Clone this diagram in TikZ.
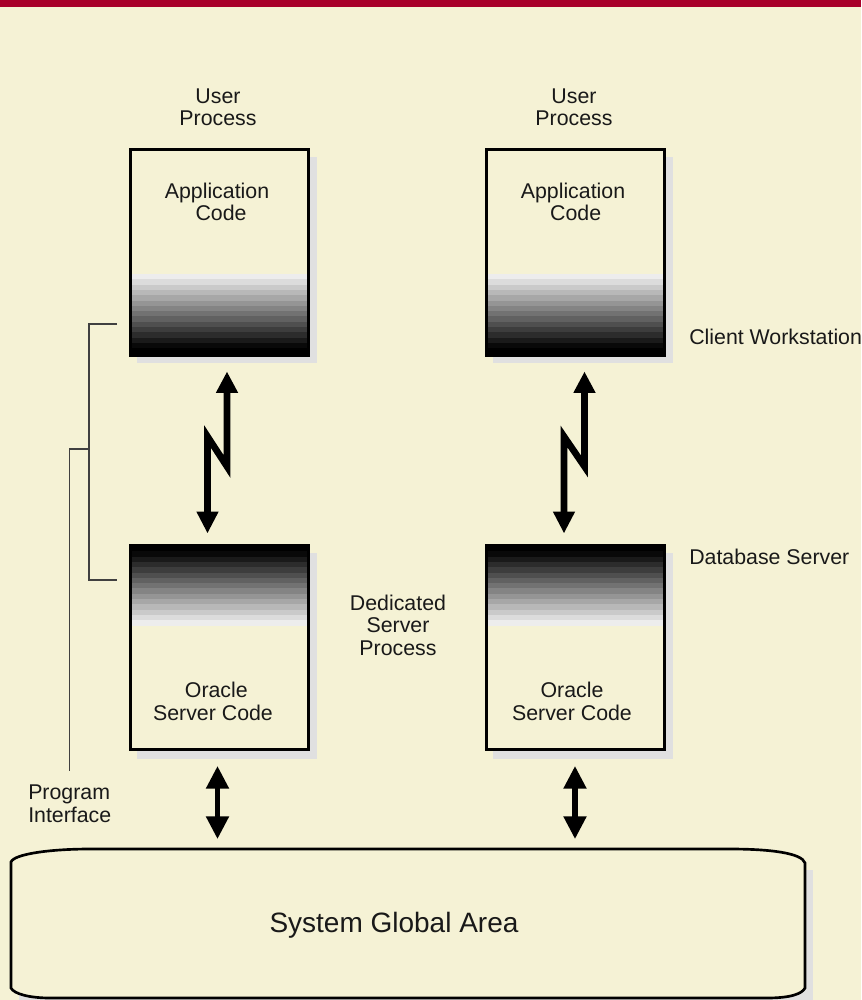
\documentclass[tikz,border=0pt]{standalone}
\usepackage{fontspec}
\setmainfont{Liberation Sans}
\usetikzlibrary{arrows.meta,calc}
\definecolor{paper}{HTML}{F5F2D5}
\definecolor{topbar}{HTML}{A8002A}
\definecolor{shadowgrey}{HTML}{E0E0E0}
\newcommand{\bandsdown}[1]{% dark at the bottom
  \foreach \i in {0,...,14}{
    \pgfmathsetmacro{\g}{max(0,100*(0.93-0.93*\i/13.5))}
    \fill[fill=white!\g!black]
      ($(#1.south west)+(0,{-81.5+\i*5.3})$) rectangle ($(#1.south east)+(0,{-81.5+(\i+1)*5.3+.3})$);}}
\newcommand{\bandsup}[1]{% dark at the top
  \foreach \i in {0,...,14}{
    \pgfmathsetmacro{\g}{max(0,100*(0.93-0.93*\i/13.5))}
    \fill[fill=white!\g!black]
      ($(#1.north west)+(0,{80-\i*5.3})$) rectangle ($(#1.north east)+(0,{80-(\i+1)*5.3-.3})$);}}
\tikzset{
  x=0.75pt,y=-0.75pt,
  box/.style={draw=black,line width=2.3pt,inner sep=0pt,outer sep=0pt,minimum width=133.5pt},
  tall/.style={minimum height=154.5pt},
  short/.style={minimum height=153pt},
  lbl/.style={font=\fontsize{16}{16.8}\selectfont,align=center,inner sep=0pt,text=black!90},
  lbll/.style={lbl,align=left,anchor=west},
  thin line/.style={draw=black!75,line width=1pt},
  zig/.style={draw=black,line width=5pt,miter limit=30,line join=miter,
    {Triangle[length=16.5pt,width=15.5pt]}-{Triangle[length=16pt,width=15.5pt]}},
  dbl/.style={draw=black,line width=3.8pt,
    {Triangle[length=17pt,width=16.5pt]}-{Triangle[length=17pt,width=16.5pt]}},
}
\begin{document}
\begin{tikzpicture}
\useasboundingbox (0,0) rectangle (861,1000);
\fill[paper] (0,0) rectangle (861,1000);
\fill[topbar] (0,0) rectangle (861,7);
% shadows
\foreach \x in {0,356}{
  \fill[shadowgrey] (137+\x,157) rectangle (317+\x,363);
  \fill[shadowgrey] (137+\x,553) rectangle (317+\x,759);
}
% boxes
\node[box,tall,fill=paper] (app1) at (219.5,252.5) {};
\node[box,tall,fill=paper] (app2) at (575.5,252.5) {};
\node[box,short,fill=paper] (srv1) at (219.5,647.5) {};
\node[box,short,fill=paper] (srv2) at (575.5,647.5) {};
\bandsdown{app1}\bandsdown{app2}\bandsup{srv1}\bandsup{srv2}
\draw[line width=2.3pt] (app1.south west) rectangle (app1.north east);
\draw[line width=2.3pt] (app2.south west) rectangle (app2.north east);
\draw[line width=2.3pt] (srv1.south west) rectangle (srv1.north east);
\draw[line width=2.3pt] (srv2.south west) rectangle (srv2.north east);
% labels
\node[lbl] (up1) at (218,107) {User\\Process};
\node[lbl] (up2) at (574,107) {User\\Process};
\node[lbl] (ac1) at (217,202) {Application\\\hspace*{6pt}Code};
\node[lbl] (ac2) at (573,202) {Application\\\hspace*{4pt}Code};
\node[lbl] (os1) at (213,701) {\hspace*{5pt}Oracle\\[0.6pt]Server Code};
\node[lbl] (os2) at (572,701) {Oracle\\[0.6pt]Server Code};
\node[lbl] (ded) at (398,625) {Dedicated\\Server\\Process};
\node[lbll] (cw) at (689,337) {Client Workstation};
\node[lbll] (db) at (689,557) {Database Server};
\node[lbll] (pi) at (28,804) {Program\\[0.8pt]Interface};
% system global area
\fill[shadowgrey] (19,870) rectangle (813,1000);
\node[inner sep=0pt,outer sep=0pt,minimum width=596pt,minimum height=112pt] (sga) at (408,923.5) {};
\draw[black,line width=2pt,fill=paper]
  (11,862) .. controls (14,854) and (50,849) .. (90,849) -- (730,849)
  .. controls (770,849) and (802,853) .. (805,863) -- (805,988)
  .. controls (802,994) and (790,998) .. (767,998) -- (50,998)
  .. controls (30,998) and (14,994) .. (11,988) -- cycle;
\node[lbl,font=\fontsize{21}{22}\selectfont] (sgat) at (394,925) {System Global Area};
% connectors
\draw[zig,shorten <=9pt,shorten >=12pt]
  ($(srv1.north)+(-12,0)$) -- ++(0,-109) -- ++(19.5,30) -- ($(app1.south)+(7.5,0)$);
\draw[zig,shorten <=9pt,shorten >=12pt]
  ($(srv2.north)+(-11.5,0)$) -- ++(0,-109) -- ++(20.5,30) -- ($(app2.south)+(9,0)$);
\draw[dbl] ($(srv1.south)+(-2,16.5)$) -- ($(srv1.south)+(-2,89.5)$);
\draw[dbl] ($(srv2.south)+(-0.5,16.5)$) -- ($(srv2.south)+(-0.5,89.5)$);
% program interface bracket
\coordinate (b1) at (117,324);
\coordinate (b2) at (117,580);
\coordinate (b3) at (89,449);
\coordinate (b4) at (69.5,771);
\draw[thin line] (b1) -| (b3) |- (b2);
\draw[thin line] (b3) -| (b4);
\end{tikzpicture}
\end{document}
